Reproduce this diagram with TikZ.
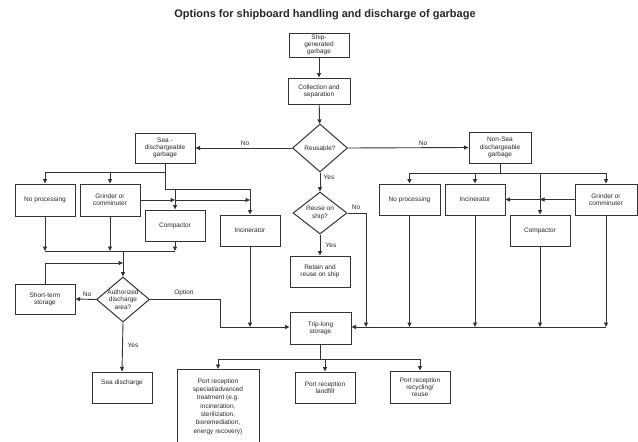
\documentclass[tikz,border=0pt]{standalone}
\usepackage{fontspec}
\setmainfont{Liberation Sans}
\usetikzlibrary{shapes.geometric,arrows.meta}
\begin{document}
\begin{tikzpicture}[x=1pt,y=-1pt,
 box/.style={draw=black!80, line width=1pt, rectangle, inner sep=0pt, align=center, font=\fontsize{6.5}{7.2}\selectfont, text=black!85},
 dia/.style={draw=black!80, line width=1pt, diamond, inner sep=0pt},
 dtxt/.style={align=center, font=\fontsize{6.5}{7.2}\selectfont, text=black!85, inner sep=0pt},
 ln/.style={draw=black!80, line width=0.9pt},
 arr/.style={ln, -{Triangle[length=4.5pt,width=4pt]}},
 lbl/.style={font=\fontsize{6.5}{7.2}\selectfont, text=black!85, inner sep=0pt},
]
\useasboundingbox (0,0) rectangle (638,442);

% title
\node[font=\bfseries\fontsize{11}{13}\selectfont, text=black!85] (title) at (325,15) {Options for shipboard handling and discharge of garbage};

% centre column
\node[box, minimum width=60pt, minimum height=24pt] (ship) at (319,45) {Ship-\\generated\\garbage};
\node[box, minimum width=62pt, minimum height=26pt] (coll) at (319,91) {Collection and\\separation};
\node[dia, minimum width=55pt, minimum height=48pt] (reus) at (320,148) {};
\node[dtxt] at (reus) {Reusable?};
\node[dia, minimum width=54pt, minimum height=42pt] (reuse) at (320,213) {};
\node[dtxt] at (reuse) {Reuse on\\ship?};
\node[box, minimum width=60pt, minimum height=31pt] (retain) at (320,271.5) {Retain and\\reuse on ship};
\node[box, minimum width=61pt, minimum height=32pt] (trip) at (320.5,328) {Trip-long\\storage};

% left side
\node[box, minimum width=60pt, minimum height=30pt] (sea) at (165,148) {Sea -\\dischargeable\\garbage};
\node[box, minimum width=60pt, minimum height=32pt] (lnop) at (45,200) {No processing};
\node[box, minimum width=60pt, minimum height=32pt] (lgrind) at (110,200) {Grinder or\\comminuter};
\node[box, minimum width=60pt, minimum height=31pt] (lcomp) at (175,225.5) {Compactor};
\node[box, minimum width=60pt, minimum height=31pt] (linc) at (250,230.5) {Incinerator};
\node[dia, minimum width=53pt, minimum height=45pt] (auth) at (123,299.5) {};
\node[dtxt] at (auth) {Authorized\\discharge\\area?};
\node[box, minimum width=60pt, minimum height=30pt] (short) at (45,299) {Short-term\\storage};
\node[box, minimum width=60pt, minimum height=31pt] (seadis) at (122,387.5) {};
\node[lbl] at (122,383) {Sea discharge};

% right side
\node[box, minimum width=62pt, minimum height=31pt] (nonsea) at (500,147.5) {Non-Sea\\dischargeable\\garbage};
\node[box, minimum width=61pt, minimum height=31pt] (rnop) at (409.5,199.5) {No processing};
\node[box, minimum width=60pt, minimum height=31pt] (rinc) at (475,199.5) {Incinerator};
\node[box, minimum width=60pt, minimum height=31pt] (rcomp) at (540,230.5) {Compactor};
\node[box, minimum width=62pt, minimum height=31pt] (rgrind) at (606,199.5) {Grinder or\\comminuter};

% bottom
\node[box, minimum width=82pt, minimum height=74pt, anchor=north, font=\fontsize{6.5}{8.3}\selectfont] (portsp) at (218,369) {Port reception\\special/advanced\\treatment (e.g.\\incineration,\\sterilization,\\bioremediation,\\energy recovery)};
\node[box, minimum width=60pt, minimum height=31pt] (landfill) at (325,387.5) {Port reception\\landfill};
\node[box, minimum width=60pt, minimum height=32pt] (recyc) at (420,387) {Port reception\\recycling/\\reuse};

% centre connectors
\draw[arr] (ship) -- (coll);
\draw[arr] (coll) -- (reus);
\draw[arr] (reus.west) -- (sea.east);
\node[lbl] at (245,143) {No};
\draw[arr] (reus.east) -- (nonsea.west);
\node[lbl] at (423,143) {No};
\draw[arr] (reus.south) -- (reuse.north);
\node[lbl] at (329,177) {Yes};
\draw[arr] (reuse.south) -- (retain.north);
\node[lbl] at (331,245) {Yes};
\coordinate (rn1) at (366,213);
\coordinate (rn2) at (366,327);
\draw[ln] (reuse.east) -- (rn1);
\draw[arr] (rn1) -- (rn2);
\node[lbl] at (356,207) {No};

% left connectors
\coordinate (s1) at (165,172);
\coordinate (s2) at (165,189);
\coordinate (bl1) at (45,172);
\coordinate (bl2) at (110,172);
\coordinate (bc1) at (175,189);
\coordinate (bc2) at (250,189);
\draw[ln] (sea.south) -- (s2);
\draw[ln] (bl1) -- (s1);
\draw[ln] (s2) -- (bc2);
\draw[arr] (bl1) -- (lnop.north);
\draw[arr] (bl2) -- (lgrind.north);
\draw[arr] (bc1) -- (lcomp.north);
\draw[arr] (bc2) -- (linc.north);
\coordinate (g1) at (175,200);
\coordinate (g2) at (250,200);
\draw[arr] (lgrind.east) -- (g1);
\draw[arr] (g1) -- (g2);

\coordinate (m1) at (45,251);
\coordinate (m2) at (110,251);
\coordinate (m3) at (175,251);
\coordinate (m0) at (123,251);
\draw[arr] (lnop.south) -- (m1);
\draw[arr] (lgrind.south) -- (m2);
\draw[arr] (lcomp.south) -- (m3);
\draw[ln] (m1) -- (m3);
\coordinate (st1) at (45,263);
\coordinate (st2) at (123,263);
\draw[ln] (short.north) -- (st1);
\draw[arr] (st1) -- (st2);
\draw[arr] (m0) -- (auth.north);
\draw[arr] (auth.west) -- (short.east);
\node[lbl] at (87,294) {No};
\draw[arr] (auth.south) -- (seadis.north);
\node[lbl] at (133,345) {Yes};
\coordinate (o1) at (220,299.5);
\coordinate (o2) at (220,327);
\draw[ln] (auth.east) -- (o1) -- (o2);
\draw[arr] (o2) -- (o2 -| trip.west);
\node[lbl] at (184,293) {Option};
\coordinate (li) at (250,327);
\draw[arr] (linc.south) -- (li);

% right connectors
\coordinate (n1) at (500,173);
\coordinate (r1) at (409.5,173);
\coordinate (r2) at (475,173);
\coordinate (r3) at (540,173);
\coordinate (r4) at (606,173);
\draw[ln] (nonsea.south) -- (n1);
\draw[ln] (r1) -- (r4);
\draw[arr] (r1) -- (rnop.north);
\draw[arr] (r2) -- (rinc.north);
\draw[arr] (r3) -- (rcomp.north);
\draw[arr] (r4) -- (rgrind.north);
\coordinate (rg1) at (540,199.5);
\draw[arr] (rgrind.west) -- (rg1);
\draw[arr] (rg1) -- (rinc.east);
\coordinate (q1) at (409.5,327);
\coordinate (q2) at (475,327);
\coordinate (q3) at (540,327);
\coordinate (q4) at (606,327);
\draw[arr] (rnop.south) -- (q1);
\draw[arr] (rinc.south) -- (q2);
\draw[arr] (rcomp.south) -- (q3);
\draw[arr] (rgrind.south) -- (q4);
\draw[arr] (q4) -- (q4 -| trip.east);

% bottom connectors
\coordinate (t1) at (320.5,359);
\coordinate (p1) at (218,359);
\coordinate (p2) at (325,359);
\coordinate (p3) at (420,359);
\draw[ln] (trip.south) -- (t1);
\draw[ln] (p1) -- (p3);
\draw[arr] (p1) -- (portsp.north);
\draw[arr] (p2) -- (landfill.north);
\draw[arr] (p3) -- (recyc.north);
\end{tikzpicture}
\end{document}
